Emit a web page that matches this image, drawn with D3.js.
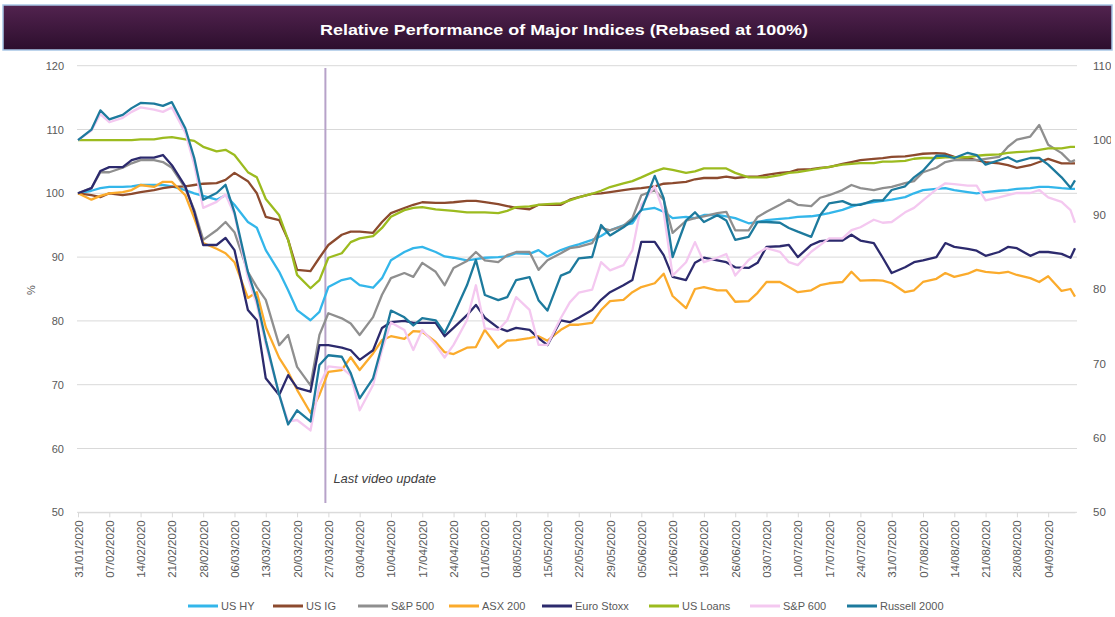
<!DOCTYPE html>
<html>
<head>
<meta charset="utf-8">
<script src="https://cdn.jsdelivr.net/npm/d3@7"></script>
<style>
  body { margin: 0; background: #fff; }
  text { font-family: "Liberation Sans", Arial, sans-serif; }
</style>
</head>
<body>
<div id="chart"></div>
<script>
// dates of the plotted observations
const dates = ["31/01/2020","03/02/2020","05/02/2020","07/02/2020","10/02/2020","12/02/2020","14/02/2020","17/02/2020","19/02/2020","21/02/2020","24/02/2020","26/02/2020","28/02/2020",
  "02/03/2020","04/03/2020","06/03/2020","09/03/2020","11/03/2020","13/03/2020","16/03/2020","18/03/2020","20/03/2020","23/03/2020","25/03/2020","27/03/2020","30/03/2020",
  "01/04/2020","03/04/2020","06/04/2020","08/04/2020","10/04/2020","13/04/2020","15/04/2020","17/04/2020","20/04/2020","22/04/2020","24/04/2020","27/04/2020","29/04/2020",
  "01/05/2020","04/05/2020","06/05/2020","08/05/2020","11/05/2020","13/05/2020","15/05/2020","18/05/2020","20/05/2020","22/05/2020","25/05/2020","27/05/2020","29/05/2020",
  "01/06/2020","03/06/2020","05/06/2020","08/06/2020","10/06/2020","12/06/2020","15/06/2020","17/06/2020","19/06/2020","22/06/2020","24/06/2020","26/06/2020","29/06/2020",
  "01/07/2020","03/07/2020","06/07/2020","08/07/2020","10/07/2020","13/07/2020","15/07/2020","17/07/2020","20/07/2020","22/07/2020","24/07/2020","27/07/2020","29/07/2020","31/07/2020",
  "03/08/2020","05/08/2020","07/08/2020","10/08/2020","12/08/2020","14/08/2020","17/08/2020","19/08/2020","21/08/2020","24/08/2020","26/08/2020","28/08/2020","31/08/2020",
  "02/09/2020","04/09/2020","07/09/2020","09/09/2020","10/09/2020"];

// weekly axis labels
const weekTicks = ["31/01/2020","07/02/2020","14/02/2020","21/02/2020","28/02/2020","06/03/2020","13/03/2020","20/03/2020","27/03/2020","03/04/2020","10/04/2020","17/04/2020",
  "24/04/2020","01/05/2020","08/05/2020","15/05/2020","22/05/2020","29/05/2020","05/06/2020","12/06/2020","19/06/2020","26/06/2020","03/07/2020","10/07/2020","17/07/2020",
  "24/07/2020","31/07/2020","07/08/2020","14/08/2020","21/08/2020","28/08/2020","04/09/2020"];

const leftTicks = [50, 60, 70, 80, 90, 100, 110, 120];
const rightTicks = [50, 60, 70, 80, 90, 100, 110];

// primary axis series
const usHY = [100.0,100.4,100.8,101.0,101.0,101.1,101.3,101.3,101.3,101.1,100.5,100.0,99.6,99.0,99.7,98.2,95.5,94.6,91.1,87.7,
  84.8,81.7,80.1,81.4,85.3,86.4,86.7,85.6,85.2,86.7,89.5,90.8,91.4,91.6,90.8,90.1,89.9,89.5,89.7,89.9,
  90.0,90.1,90.6,90.5,91.1,90.1,91.1,91.6,92.0,92.7,93.3,94.2,95.0,95.3,97.4,97.7,97.1,96.1,96.3,96.1,
  96.6,96.6,96.4,96.1,95.3,95.5,95.8,96.0,96.1,96.3,96.4,96.6,96.9,97.4,97.9,98.3,98.6,98.8,99.0,99.4,
  100.0,100.5,100.7,100.8,100.5,100.2,100.0,100.2,100.4,100.5,100.7,100.8,101.0,101.0,100.8,100.7,100.7];
const usIG = [100.0,99.7,99.4,100.0,99.7,99.9,100.2,100.5,100.8,101.0,101.1,101.3,101.5,101.6,102.1,103.2,101.9,100.0,96.3,95.8,
  92.7,88.0,87.8,89.9,91.9,93.5,94.0,94.0,93.8,95.5,96.9,97.7,98.2,98.6,98.5,98.5,98.6,98.8,98.8,98.6,
  98.3,98.0,97.7,97.5,98.2,98.2,98.2,99.0,99.4,99.9,100.0,100.2,100.5,100.7,100.8,101.1,101.5,101.6,101.8,102.2,
  102.4,102.4,102.6,102.4,102.6,102.6,102.9,103.2,103.3,103.7,103.8,104.0,104.1,104.6,104.9,105.2,105.4,105.5,105.7,105.8,
  106.0,106.2,106.3,106.2,105.7,105.5,105.2,104.9,104.7,104.4,104.0,104.4,104.9,105.4,104.7,104.7,104.7];
const sp500 = [100.0,100.8,103.3,103.3,104.0,104.7,105.2,105.2,104.9,104.0,100.8,97.4,92.7,94.2,95.5,93.9,87.7,85.3,83.3,76.2,
  77.8,72.8,69.9,77.8,81.2,80.4,79.6,77.8,80.6,84.1,86.7,87.5,86.9,89.1,87.7,85.6,88.3,89.4,90.8,89.5,
  89.2,90.3,90.8,90.8,88.0,89.5,90.6,91.4,91.6,92.2,94.6,94.2,94.9,96.1,99.7,100.5,99.0,93.8,95.7,96.1,
  96.4,96.9,97.1,94.2,94.2,96.3,97.1,98.2,99.0,98.2,98.0,99.3,99.7,100.5,101.3,100.8,100.5,100.8,101.0,101.6,
  101.9,103.3,104.0,104.9,105.2,105.2,105.2,105.4,105.7,107.3,108.4,108.9,110.7,107.6,106.3,104.9,105.2];
const asx200 = [100.0,99.0,99.6,100.0,100.2,100.5,101.3,101.0,101.8,101.8,99.7,96.1,92.2,91.3,90.6,89.2,83.6,84.5,79.0,74.2,
  72.0,69.2,65.6,68.4,72.0,72.3,74.3,72.3,74.9,77.0,77.6,77.2,78.4,78.3,76.7,75.1,74.8,75.8,75.9,78.6,
  75.8,76.9,77.0,77.3,77.6,76.9,78.6,79.4,79.4,79.7,81.7,83.1,83.3,84.5,85.3,85.9,87.4,83.9,82.0,85.0,
  85.3,84.8,84.8,83.0,83.1,84.4,86.1,86.1,85.3,84.5,84.8,85.6,85.9,86.1,87.7,86.3,86.4,86.3,85.9,84.5,
  84.8,86.1,86.6,87.5,86.9,87.4,88.0,87.7,87.5,87.7,87.2,86.7,86.1,87.0,84.7,85.0,83.8];
const euroStoxx = [100.0,100.8,103.5,104.1,104.1,105.2,105.6,105.6,106.0,104.4,101.1,97.1,91.9,91.9,93.0,91.1,81.7,80.1,71.0,68.4,
  71.5,69.5,68.9,76.2,76.2,75.8,75.4,73.9,75.4,78.9,79.8,80.0,79.7,79.7,79.7,77.6,78.9,80.9,82.5,80.5,
  78.9,78.4,78.9,78.6,77.3,76.2,80.1,79.8,80.5,81.7,83.3,84.5,85.6,86.4,92.4,92.4,90.3,86.9,86.4,89.1,
  89.9,89.5,89.2,88.4,88.3,89.1,91.6,91.7,91.9,90.0,91.9,92.5,92.6,92.6,93.5,92.6,92.2,89.9,87.5,88.4,
  89.2,89.5,90.0,92.2,91.6,91.3,91.0,90.2,90.8,91.6,91.4,90.2,90.8,90.8,90.5,89.9,91.4];

// secondary axis series
const usLoans = [100.0,100.0,100.0,100.0,100.0,100.0,100.1,100.1,100.3,100.4,100.1,99.9,99.1,98.5,98.7,98.0,95.7,95.0,92.1,89.9,
  86.6,81.9,80.1,81.2,84.2,84.8,86.3,86.8,87.1,88.2,89.7,90.6,90.9,91.0,90.7,90.6,90.5,90.3,90.3,90.3,
  90.2,90.5,91.0,91.1,91.3,91.4,91.5,91.9,92.3,92.8,93.2,93.7,94.2,94.5,95.0,95.8,96.2,96.0,95.6,95.8,
  96.2,96.2,96.2,95.6,95.0,95.0,95.0,95.3,95.6,95.7,96.0,96.2,96.4,96.7,96.8,96.9,96.9,97.1,97.1,97.2,
  97.5,97.6,97.6,97.7,97.7,97.7,97.9,98.0,98.1,98.3,98.4,98.5,98.7,98.9,98.9,99.1,99.1];
const sp600 = [100.0,101.3,103.5,102.4,103.0,103.8,104.4,104.1,103.8,104.4,101.0,96.7,90.9,91.7,92.7,90.0,81.5,77.9,72.5,65.8,
  62.2,62.4,61.0,67.1,69.6,69.4,68.4,63.7,67.1,71.8,75.5,74.5,71.8,74.5,72.5,70.8,72.5,75.8,80.5,74.7,
  74.5,75.8,78.9,77.2,72.5,72.5,76.1,78.2,79.5,79.9,83.6,82.5,83.2,85.2,91.3,93.8,90.3,81.8,83.6,86.3,
  83.6,84.2,84.7,81.8,83.9,84.8,85.5,85.0,83.6,83.2,85.0,85.9,86.8,86.8,87.9,88.3,89.3,88.9,89.0,90.3,
  90.9,91.9,93.4,94.2,94.1,93.9,93.9,91.9,92.3,92.6,92.9,92.9,93.3,92.3,91.7,90.6,88.9];
const russell2000 = [100.0,101.4,104.0,102.8,103.4,104.3,105.0,104.9,104.6,105.1,101.6,97.6,92.0,92.9,94.0,90.3,82.3,78.5,73.1,65.8,
  61.8,63.7,62.2,69.8,71.1,70.9,68.7,65.3,68.0,72.4,77.1,76.2,75.1,76.1,75.8,74.1,76.5,80.5,83.9,79.2,
  78.5,78.9,81.2,81.6,78.5,77.1,81.8,82.3,84.1,84.3,88.6,87.2,88.3,89.2,90.6,95.2,92.2,84.3,89.2,90.3,
  89.0,89.9,89.2,86.6,87.0,89.0,89.0,88.9,88.2,87.7,87.0,89.9,91.5,91.8,91.3,91.3,91.9,91.9,93.3,93.8,
  95.0,95.9,97.9,97.9,97.6,98.3,98.0,96.7,97.3,97.7,97.1,97.6,97.6,96.7,95.0,93.6,94.6];

const lastUpdate = "26/03/2020";

const series = [
  { name: "US HY", values: usHY, axis: "left", color: "#33b6ea" },
  { name: "US IG", values: usIG, axis: "left", color: "#8c4a2e" },
  { name: "S&P 500", values: sp500, axis: "left", color: "#8f8f8f" },
  { name: "ASX 200", values: asx200, axis: "left", color: "#fbab2c" },
  { name: "Euro Stoxx", values: euroStoxx, axis: "left", color: "#2c2a6d" },
  { name: "US Loans", values: usLoans, axis: "right", color: "#9cbb1f" },
  { name: "S&P 600", values: sp600, axis: "right", color: "#f4c8f0" },
  { name: "Russell 2000", values: russell2000, axis: "right", color: "#1d7a9d" }
];

const width = 1115, height = 617;
const parse = d3.timeParse("%d/%m/%Y");
const fmt = d3.timeFormat("%d/%m/%Y");
const days = dates.map(parse);

const svg = d3.select("#chart").append("svg").attr("width", width).attr("height", height);

// title bar
const grad = svg.append("defs").append("linearGradient").attr("id", "titleGrad").attr("x1", 0).attr("y1", 0).attr("x2", 0).attr("y2", 1);
grad.append("stop").attr("offset", "0%").attr("stop-color", "#52234f");
grad.append("stop").attr("offset", "100%").attr("stop-color", "#2c0e2d");
svg.select("defs").append("clipPath").attr("id", "edge").append("rect").attr("x", -20).attr("y", 0).attr("width", 38).attr("height", height);

svg.append("rect").attr("x", 3).attr("y", 5).attr("width", 1109).attr("height", 45)
  .attr("fill", "url(#titleGrad)").attr("stroke", "#a8c6e6").attr("stroke-width", 1.5);
svg.append("text").attr("x", 564).attr("y", 35).attr("text-anchor", "middle")
  .attr("fill", "#ffffff").attr("font-size", 15).attr("font-weight", "bold")
  .attr("textLength", 488).attr("lengthAdjust", "spacingAndGlyphs")
  .text("Relative Performance of Major Indices (Rebased at 100%)");

// scales
const x = d3.scaleTime().domain([parse("31/01/2020"), parse("10/09/2020")]).range([78, 1075]);
const yL = d3.scaleLinear().domain([50, 120]).range([512.3, 65.7]);
const yR = d3.scaleLinear().domain([50, 110]).range([512.3, 65.7]);

// gridlines
svg.append("g").selectAll("line").data(leftTicks).join("line")
  .attr("x1", 77).attr("x2", 1077).attr("y1", d => yL(d)).attr("y2", d => yL(d))
  .attr("stroke", "#d9d9d9").attr("stroke-width", 1);

// left axis
const gl = svg.append("g").attr("transform", "translate(64,0)")
  .call(d3.axisLeft(yL).tickValues(leftTicks).tickSize(0).tickPadding(0));
gl.select(".domain").remove();
gl.selectAll("text").attr("fill", "#595959").attr("font-size", 11).attr("font-family", "Liberation Sans, Arial, sans-serif");

// right axis, its labels cut at the picture edge like the source
const gr = svg.append("g").attr("transform", "translate(1093,0)").attr("clip-path", "url(#edge)")
  .call(d3.axisRight(yR).tickValues(rightTicks).tickSize(0).tickPadding(0));
gr.select(".domain").remove();
gr.selectAll("text").attr("fill", "#595959").attr("font-size", 11.5).attr("font-family", "Liberation Sans, Arial, sans-serif");

svg.append("text").attr("transform", "translate(35,290) rotate(-90)").attr("text-anchor", "middle")
  .attr("fill", "#595959").attr("font-size", 11).text("%");

// bottom axis
const gx = svg.append("g").attr("transform", "translate(0,512.3)")
  .call(d3.axisBottom(x).tickValues(weekTicks.map(parse)).tickFormat(fmt).tickSizeInner(5).tickSizeOuter(0));
gx.select(".domain").attr("stroke", "#d9d9d9");
gx.selectAll(".tick line").attr("stroke", "#d9d9d9");
gx.selectAll("text")
  .attr("transform", "rotate(-90)").attr("text-anchor", "end")
  .attr("x", -8).attr("y", 0).attr("dy", "0.35em")
  .attr("fill", "#595959").attr("font-size", 11.5).attr("font-family", "Liberation Sans, Arial, sans-serif");

// last video update marker
const xl = x(parse(lastUpdate)) + 1.5;
svg.append("line").attr("x1", xl).attr("x2", xl).attr("y1", 68).attr("y2", 503)
  .attr("stroke", "#b7a2c9").attr("stroke-width", 2);
svg.append("text").attr("x", xl + 8).attr("y", 483).attr("font-style", "italic")
  .attr("font-size", 13).attr("fill", "#404040").text("Last video update");

// lines
const lineL = d3.line().x((d, i) => x(days[i])).y(d => yL(d));
const lineR = d3.line().x((d, i) => x(days[i])).y(d => yR(d));

svg.append("g").selectAll("path").data(series).join("path")
  .attr("d", s => (s.axis === "left" ? lineL : lineR)(s.values))
  .attr("fill", "none")
  .attr("stroke", s => s.color)
  .attr("stroke-width", 2.3)
  .attr("stroke-linejoin", "round");

// legend
const legendX = [188, 273, 358, 449, 542, 649, 750, 847];
const lg = svg.append("g").selectAll("g").data(series).join("g")
  .attr("transform", (s, i) => `translate(${legendX[i]},606)`);
lg.append("line").attr("x1", 0).attr("x2", 30).attr("y1", 0).attr("y2", 0)
  .attr("stroke", s => s.color).attr("stroke-width", 3);
lg.append("text").attr("x", 33).attr("y", 0).attr("dy", "0.35em")
  .attr("font-size", 11).attr("fill", "#595959").text(s => s.name);
</script>
</body>
</html>
